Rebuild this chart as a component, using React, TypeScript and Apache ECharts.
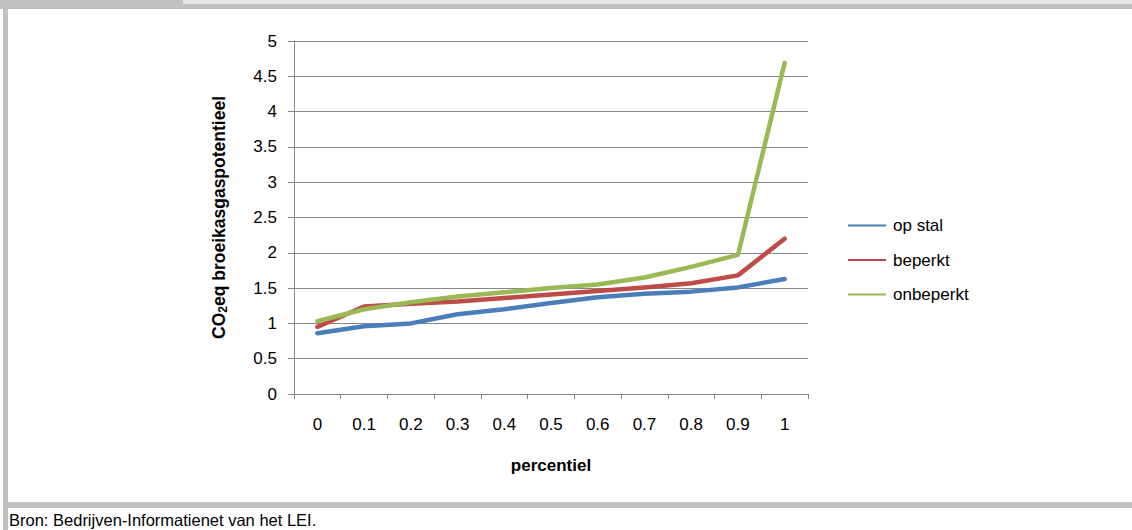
import React, { useEffect, useRef } from "react";
import * as echarts from "echarts";

// Percentile classes on the horizontal axis
const percentielen = ["0", "0.1", "0.2", "0.3", "0.4", "0.5", "0.6", "0.7", "0.8", "0.9", "1"];

// CO2-eq broeikasgaspotentieel per beweidingssysteem
const opStal = [0.86, 0.96, 1.0, 1.13, 1.2, 1.29, 1.37, 1.42, 1.45, 1.51, 1.63];
const beperkt = [0.95, 1.24, 1.28, 1.31, 1.36, 1.41, 1.46, 1.51, 1.57, 1.68, 2.2];
const onbeperkt = [1.03, 1.2, 1.3, 1.38, 1.44, 1.5, 1.55, 1.65, 1.8, 1.97, 4.69];

const FONT = "'Liberation Sans', Arial, sans-serif";
const FRAME = "#c0c0c0";

export default function App() {
  const ref = useRef<HTMLDivElement>(null);

  useEffect(() => {
    if (!ref.current) return;
    const chart = echarts.init(ref.current, null, { renderer: "svg" });

    const line = (name: string, data: number[], color: string) => ({
      name,
      type: "line",
      data,
      symbol: "none",
      smooth: false,
      lineStyle: { color, width: 4.5, cap: "round", join: "round" },
      itemStyle: { color },
    });

    chart.setOption({
      animation: false,
      backgroundColor: "#ffffff",
      grid: { left: 294, right: 324, top: 41, bottom: 136, containLabel: false },
      legend: {
        orient: "vertical",
        left: 843,
        top: 212,
        itemWidth: 38,
        itemHeight: 14,
        itemGap: 17.5,
        icon: "path://M0,6 L38,6 L38,8 L0,8 Z",
        textStyle: { fontFamily: FONT, fontSize: 17, color: "#000", padding: [0, 0, 0, 2] },
        data: ["op stal", "beperkt", "onbeperkt"],
      },
      xAxis: {
        type: "category",
        data: percentielen,
        boundaryGap: true,
        name: "percentiel",
        nameLocation: "middle",
        nameGap: 63,
        nameTextStyle: { fontFamily: FONT, fontSize: 17, fontWeight: "bold", color: "#000" },
        axisLine: { lineStyle: { color: "#868686", width: 1 } },
        axisTick: { show: true, alignWithLabel: false, length: 5, lineStyle: { color: "#868686" } },
        axisLabel: { fontFamily: FONT, fontSize: 17, color: "#000", margin: 22 },
        splitLine: { show: false },
      },
      yAxis: {
        type: "value",
        min: 0,
        max: 5,
        interval: 0.5,
        name: "{a|CO}{s|2}{a|eq broeikasgaspotentieel}",
        nameLocation: "middle",
        nameGap: 65,
        nameRotate: 90,
        nameTextStyle: {
          rich: {
            a: { fontFamily: FONT, fontSize: 17.5, fontWeight: "bold", color: "#000" },
            s: { fontFamily: FONT, fontSize: 12, fontWeight: "bold", color: "#000", padding: [9, 0, 0, 0] },
          },
        },
        axisLine: { show: true, lineStyle: { color: "#868686", width: 1 } },
        axisTick: { show: true, length: 6, lineStyle: { color: "#868686" } },
        axisLabel: { fontFamily: FONT, fontSize: 17, color: "#000", margin: 17 },
        splitLine: { show: true, lineStyle: { color: "#868686", width: 1 } },
      },
      series: [
        line("op stal", opStal, "#4a7ebb"),
        line("beperkt", beperkt, "#be4b48"),
        line("onbeperkt", onbeperkt, "#98b954"),
      ],
      graphic: [
        { type: "rect", shape: { x: 0, y: 0, width: 183, height: 9 }, style: { fill: FRAME }, silent: true },
        { type: "rect", shape: { x: 183, y: 0, width: 949, height: 4 }, style: { fill: "#e6e6e6" }, silent: true },
        { type: "rect", shape: { x: 183, y: 4, width: 949, height: 5 }, style: { fill: FRAME }, silent: true },
        { type: "rect", shape: { x: 3, y: 9, width: 5, height: 521 }, style: { fill: FRAME }, silent: true },
        { type: "rect", shape: { x: 3, y: 502, width: 1129, height: 6 }, style: { fill: FRAME }, silent: true },
        {
          type: "text",
          x: 9,
          y: 520,
          style: {
            text: "Bron: Bedrijven-Informatienet van het LEI.",
            fontFamily: FONT,
            fontSize: 16.5,
            fill: "#000",
            verticalAlign: "middle",
          },
          silent: true,
        },
      ],
    });

    return () => chart.dispose();
  }, []);

  return (
    <div style={{ position: "fixed", left: 0, top: 0, width: 1132, height: 530, background: "#fff" }}>
      <div ref={ref} style={{ width: 1132, height: 530 }} />
    </div>
  );
}
